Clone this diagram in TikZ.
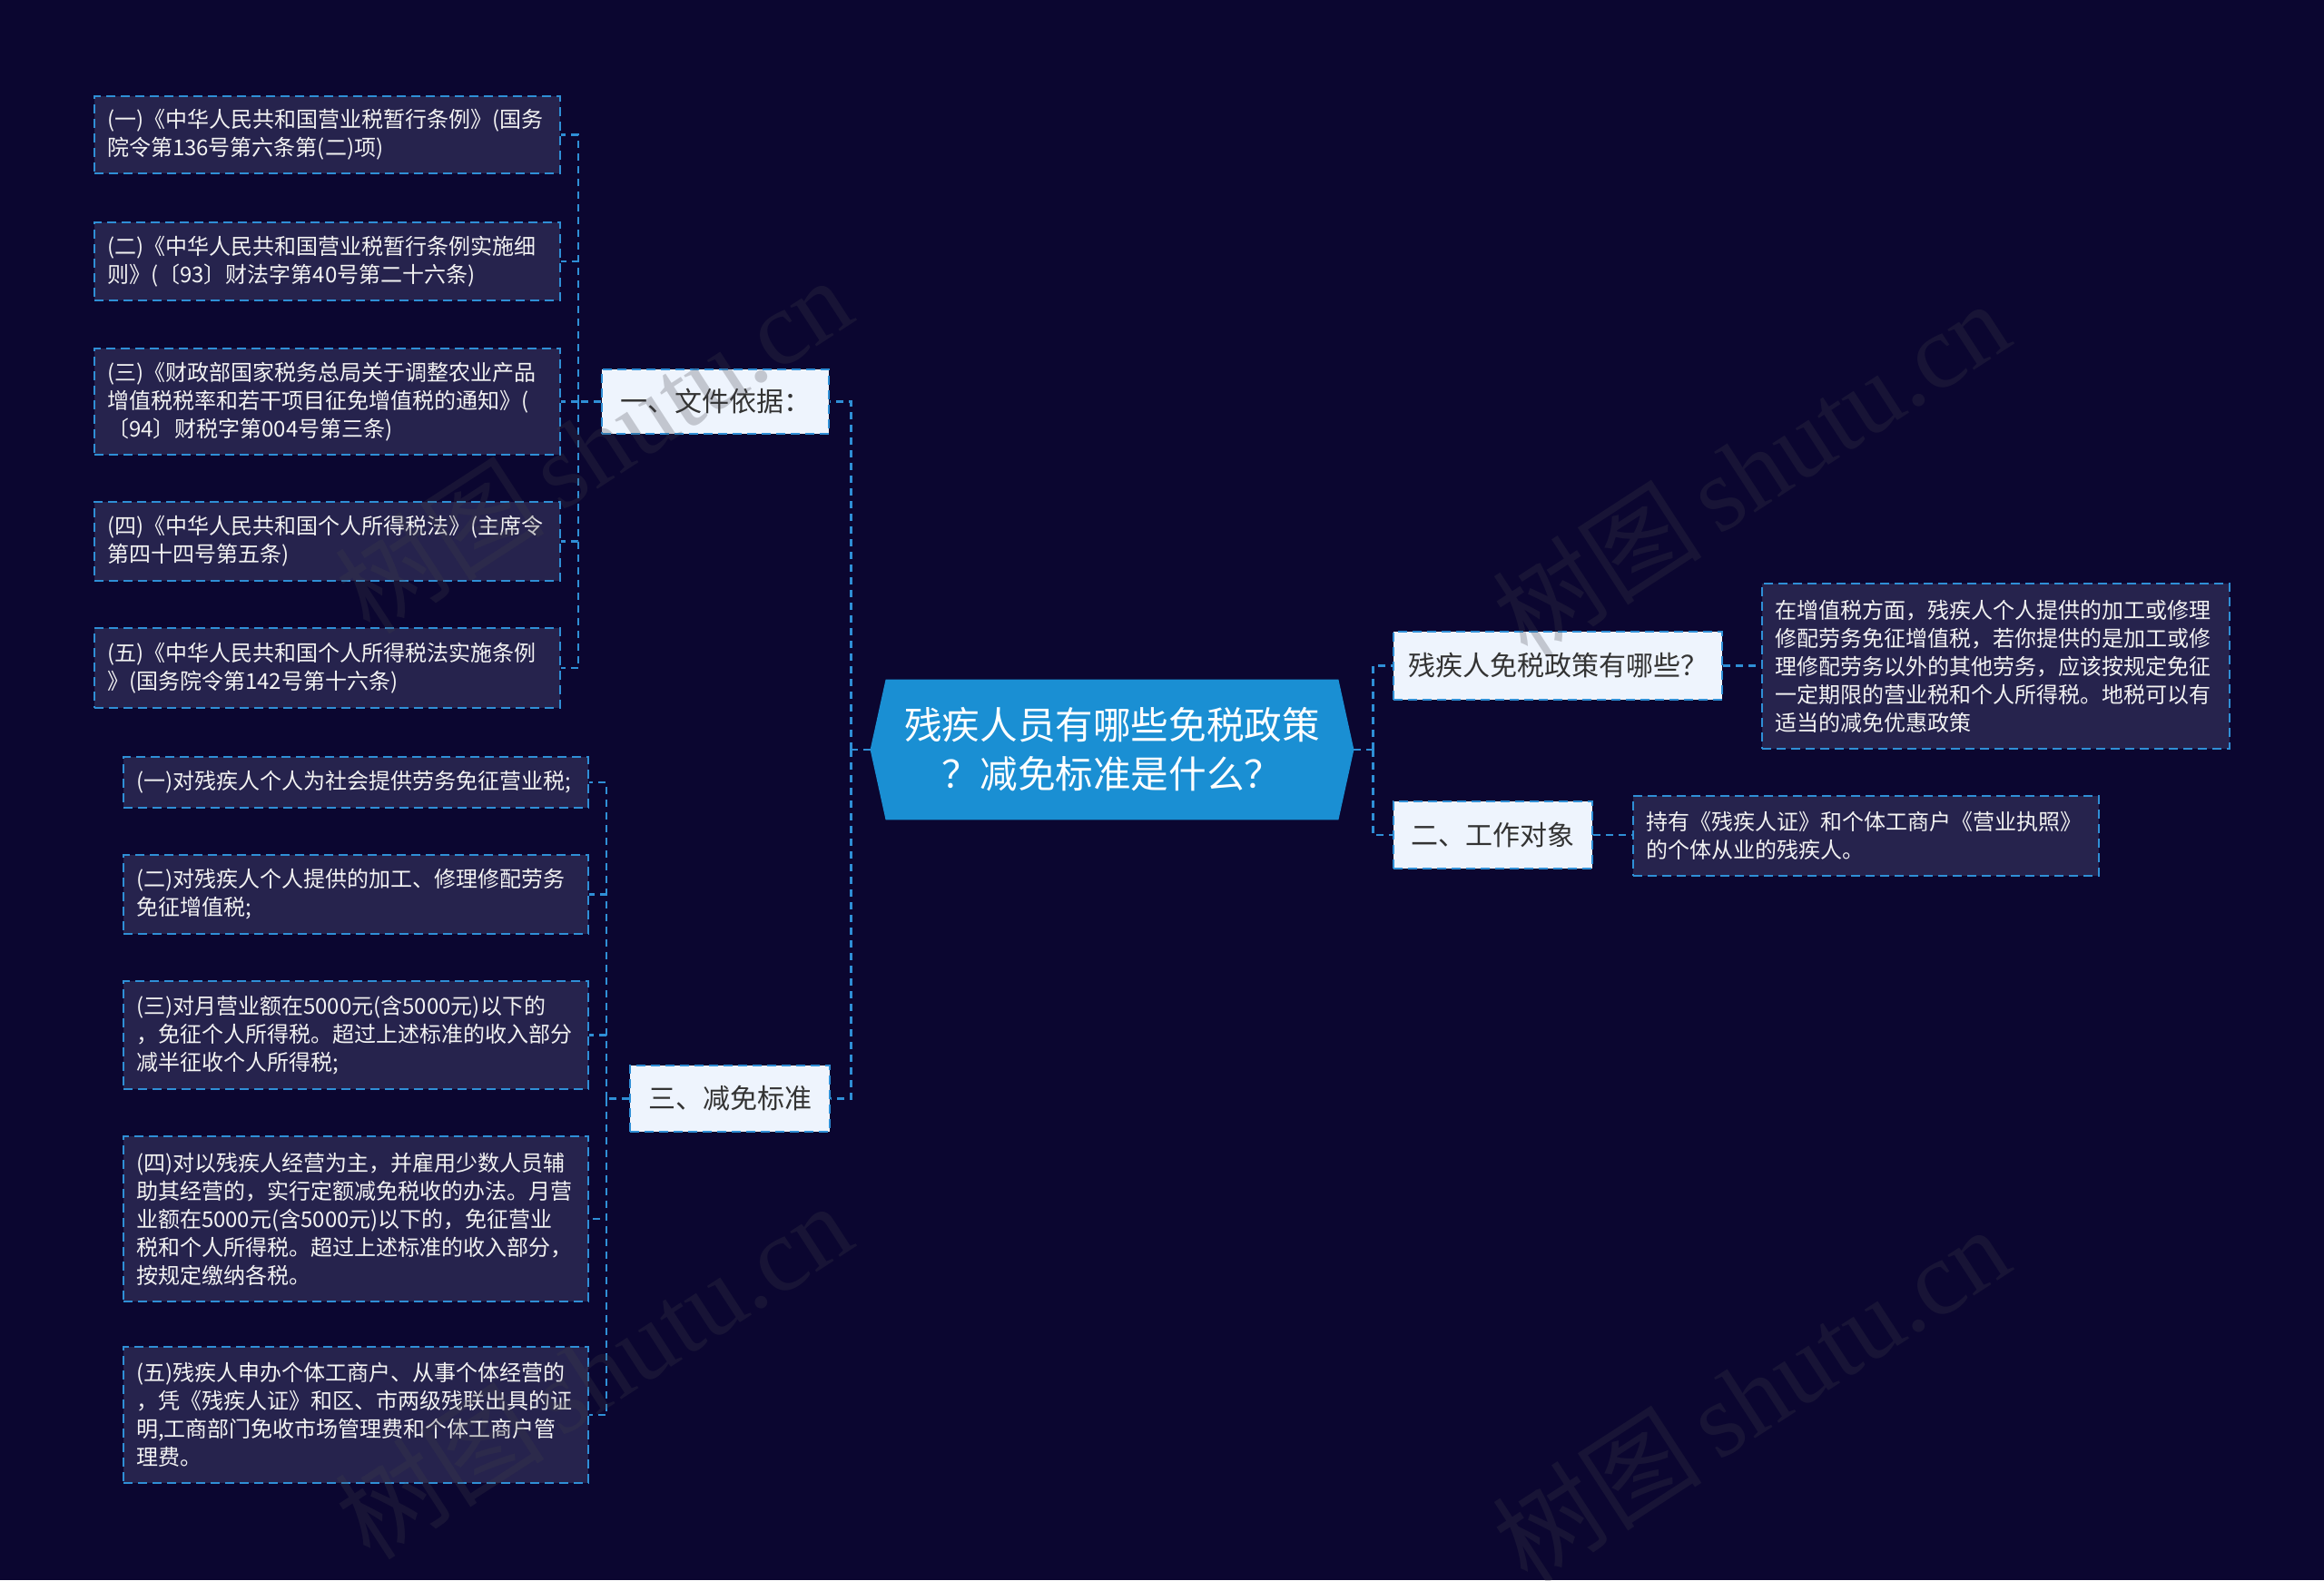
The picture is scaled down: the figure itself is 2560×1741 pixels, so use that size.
\documentclass[tikz,border=0pt]{standalone}
\usepackage{fontspec}
\setmainfont{Noto Sans CJK SC}
\newfontfamily\wmserif{Liberation Serif}
\newfontfamily\wmsans{Noto Sans CJK SC}
\usetikzlibrary{calc,backgrounds}
\definecolor{bgc}{HTML}{0B0630}
\definecolor{lineblue}{HTML}{2F8FD6}
\definecolor{leaffill}{HTML}{26234D}
\definecolor{lvfill}{HTML}{EEF4FD}
\definecolor{centerfill}{HTML}{1A8FD3}
\definecolor{lvtext}{HTML}{333333}
\definecolor{leaftext}{HTML}{F2F2F2}
\definecolor{wmc}{RGB}{64,64,72}
\begin{document}
\begin{tikzpicture}[x=0.5pt,y=-0.5pt,
  leaf/.style={draw=lineblue, line width=1pt, dash pattern=on 5pt off 3pt,
    fill=leaffill, text=leaftext, font=\fontsize{12}{15.5}\selectfont,
    align=left, inner xsep=7pt, inner ysep=0pt},
  lvbox/.style={draw=lineblue, line width=1pt, dash pattern=on 5pt off 3pt,
    fill=lvfill, text=lvtext, font=\fontsize{15}{18}\selectfont, inner sep=0pt},
  centerbox/.style={text=white, font=\fontsize{20.8}{27}\selectfont, align=center,
    inner sep=0pt, minimum width=249pt, minimum height=77pt},
  conn/.style={draw=lineblue, line width=1.2pt, dash pattern=on 4pt off 3pt},
  wmark/.style={text=wmc, opacity=0.25, rotate=33, inner sep=0pt}
]
\begin{scope}[on background layer]
  \fill[bgc] (0,0) rectangle (2560,1741);
\end{scope}
\useasboundingbox (0,0) rectangle (2560,1741);

% center node
\node[centerbox] (c) at (1225,826) {残疾人员有哪些免税政策\\？减免标准是什么？};
\begin{scope}[on background layer]
  \fill[centerfill] (c.north west) -- (c.north east) -- ($(c.east)+(17,0)$)
    -- (c.south east) -- (c.south west) -- ($(c.west)+(-17,0)$) -- cycle;
\end{scope}
\coordinate (cL) at ($(c.west)+(-17,0)$);
\coordinate (cR) at ($(c.east)+(17,0)$);

% level-1 nodes
\node[lvbox, minimum width=125pt, minimum height=35.5pt] (n1) at (788,442.5) {一、文件依据：};
\node[lvbox, minimum width=110pt, minimum height=36.5pt] (n3) at (804,1210.5) {三、减免标准};
\node[lvbox, minimum width=181pt, minimum height=37.5pt] (n2a) at (1716,733.5) {残疾人免税政策有哪些？};
\node[lvbox, minimum width=109.5pt, minimum height=37pt] (n2b) at (1644.5,920) {二、工作对象};

% group 1 leaves
\node[leaf, text width=242.5pt, minimum height=42.5pt] (b1) at (360.5,148.5)
  {(一)《中华人民共和国营业税暂行条例》(国务\\院令第136号第六条第(二)项)};
\node[leaf, text width=242.5pt, minimum height=43pt] (b2) at (360.5,288)
  {(二)《中华人民共和国营业税暂行条例实施细\\则》(〔93〕财法字第40号第二十六条)};
\node[leaf, text width=242.5pt, minimum height=58.5pt] (b3) at (360.5,442.5)
  {(三)《财政部国家税务总局关于调整农业产品\\增值税税率和若干项目征免增值税的通知》(\\〔94〕财税字第004号第三条)};
\node[leaf, text width=242.5pt, minimum height=43.5pt] (b4) at (360.5,596.5)
  {(四)《中华人民共和国个人所得税法》(主席令\\第四十四号第五条)};
\node[leaf, text width=242.5pt, minimum height=44pt] (b5) at (360.5,736)
  {(五)《中华人民共和国个人所得税法实施条例\\》(国务院令第142号第十六条)};

% group 3 leaves
\node[leaf, text width=242pt, minimum height=28pt] (d1) at (392,862)
  {(一)对残疾人个人为社会提供劳务免征营业税;};
\node[leaf, text width=242pt, minimum height=43.5pt] (d2) at (392,985.5)
  {(二)对残疾人个人提供的加工、修理修配劳务\\免征增值税;};
\node[leaf, text width=242pt, minimum height=59.5pt] (d3) at (392,1140.5)
  {(三)对月营业额在5000元(含5000元)以下的\\，免征个人所得税。超过上述标准的收入部分\\减半征收个人所得税;};
\node[leaf, text width=242pt, minimum height=91pt] (d4) at (392,1343)
  {(四)对以残疾人经营为主，并雇用少数人员辅\\助其经营的，实行定额减免税收的办法。月营\\业额在5000元(含5000元)以下的，免征营业\\税和个人所得税。超过上述标准的收入部分，\\按规定缴纳各税。};
\node[leaf, text width=242pt, minimum height=75pt] (d5) at (392,1559)
  {(五)残疾人申办个体工商户、从事个体经营的\\，凭《残疾人证》和区、市两级残联出具的证\\明,工商部门免收市场管理费和个体工商户管\\理费。};

% right leaves
\node[leaf, text width=243.5pt, minimum height=91pt] (r1) at (2198.5,734)
  {在增值税方面，残疾人个人提供的加工或修理\\修配劳务免征增值税，若你提供的是加工或修\\理修配劳务以外的其他劳务，应该按规定免征\\一定期限的营业税和个人所得税。地税可以有\\适当的减免优惠政策};
\node[leaf, text width=242.5pt, minimum height=44pt] (r2) at (2055.5,921)
  {持有《残疾人证》和个体工商户《营业执照》\\的个体从业的残疾人。};

% connectors
\draw[conn] (cL) -- ++(-21,0) coordinate (jL);
\draw[conn] (jL) |- (n1.east);
\draw[conn] (jL) |- (n3.east);
\draw[conn] (cR) -- ++(21,0) coordinate (jR);
\draw[conn] (jR) |- (n2a.west);
\draw[conn] (jR) |- (n2b.west);
\draw[conn] (n1.west) -- ++(-25,0) coordinate (j1);
\foreach \b in {b1,b2,b3,b4,b5} \draw[conn] (j1) |- (\b.east);
\draw[conn] (n3.west) -- ++(-25,0) coordinate (j3);
\foreach \d in {d1,d2,d3,d4,d5} \draw[conn] (j3) |- (\d.east);
\draw[conn] (n2a.east) -- (r1.west |- n2a.east);
\draw[conn] (n2b.east) -- (r2.west |- n2b.east);

% watermarks
\foreach \p in {(653,490),(1928,516),(653,1510),(1928,1536)}
  \node[wmark] at \p {\fontsize{58}{58}\selectfont\wmsans 树图\,\wmserif shutu.cn};
\end{tikzpicture}
\end{document}
